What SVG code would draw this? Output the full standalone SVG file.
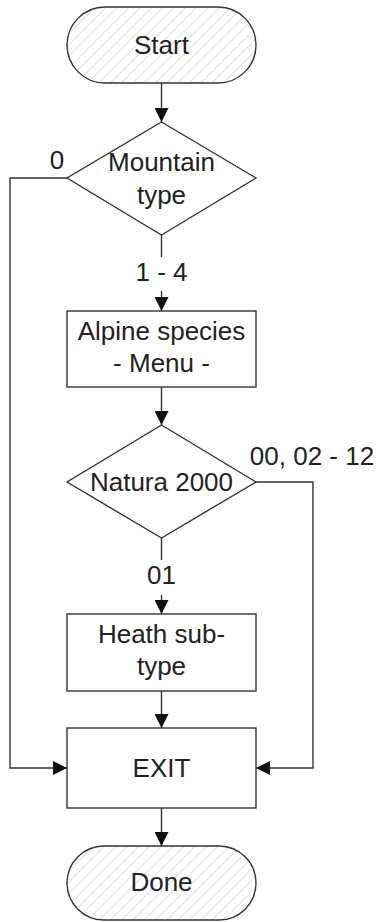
<svg xmlns="http://www.w3.org/2000/svg" width="377" height="922" viewBox="0 0 377 922">
  <style>
    .shape { fill: #ffffff; stroke: #333333; stroke-width: 1.4; }
    .term { fill: url(#hatch); stroke: #333333; stroke-width: 1.4; }
    .wire { fill: none; stroke: #333333; stroke-width: 1.4; }
    text { font-family: "Liberation Sans", Arial, sans-serif; font-size: 26px; fill: #222222; text-anchor: middle; }
  </style>
  <defs>
    <pattern id="hatch" patternUnits="userSpaceOnUse" width="8" height="8" patternTransform="rotate(45)">
      <rect width="8" height="8" fill="#ffffff"/>
      <line x1="0" y1="0" x2="0" y2="8" stroke="#c8c8c8" stroke-width="1.2"/>
    </pattern>
    <marker id="arrow" viewBox="0 0 14 14" refX="14" refY="7" markerWidth="14" markerHeight="14" markerUnits="userSpaceOnUse" orient="auto">
      <path d="M0,0 L14,7 L0,14 Z" fill="#111111"/>
    </marker>
  </defs>

  <g id="connectors">
    <line class="wire" x1="161.5" y1="83" x2="161.5" y2="122" marker-end="url(#arrow)"/>
    <line class="wire" x1="161.5" y1="235" x2="161.5" y2="257"/>
    <line class="wire" x1="161.5" y1="291" x2="161.5" y2="311" marker-end="url(#arrow)"/>
    <line class="wire" x1="161.5" y1="387" x2="161.5" y2="425" marker-end="url(#arrow)"/>
    <line class="wire" x1="161.5" y1="538" x2="161.5" y2="560"/>
    <line class="wire" x1="161.5" y1="595" x2="161.5" y2="614" marker-end="url(#arrow)"/>
    <line class="wire" x1="161.5" y1="691" x2="161.5" y2="728" marker-end="url(#arrow)"/>
    <line class="wire" x1="161.5" y1="808" x2="161.5" y2="846" marker-end="url(#arrow)"/>
    <polyline class="wire" points="67,178 10,178 10,768 67,768" marker-end="url(#arrow)"/>
    <polyline class="wire" points="256,482 313,482 313,768 256,768" marker-end="url(#arrow)"/>
    <text x="57" y="169">0</text>
    <text x="161.5" y="281">1 - 4</text>
    <text x="312" y="465">00, 02 - 12</text>
    <text x="161.5" y="584">01</text>
  </g>

  <g id="start">
    <rect class="term" x="67" y="7" width="189" height="76" rx="38" ry="38"/>
    <text x="161.5" y="54">Start</text>
  </g>

  <g id="mountain-type">
    <polygon class="shape" points="161.5,122 256,178 161.5,235 67,178"/>
    <text x="161.5" y="171">Mountain</text>
    <text x="161.5" y="204">type</text>
  </g>

  <g id="alpine-species">
    <rect class="shape" x="67" y="311" width="189" height="76"/>
    <text x="161.5" y="340">Alpine species</text>
    <text x="161.5" y="372">- Menu -</text>
  </g>

  <g id="natura-2000">
    <polygon class="shape" points="161.5,425 256,482 161.5,538 67,482"/>
    <text x="161.5" y="491">Natura 2000</text>
  </g>

  <g id="heath-subtype">
    <rect class="shape" x="67" y="614" width="189" height="77"/>
    <text x="161.5" y="643">Heath sub-</text>
    <text x="161.5" y="675">type</text>
  </g>

  <g id="exit">
    <rect class="shape" x="67" y="728" width="189" height="80"/>
    <text x="161.5" y="777">EXIT</text>
  </g>

  <g id="done">
    <rect class="term" x="67" y="846" width="189" height="74" rx="37" ry="37"/>
    <text x="161.5" y="891">Done</text>
  </g>
</svg>
